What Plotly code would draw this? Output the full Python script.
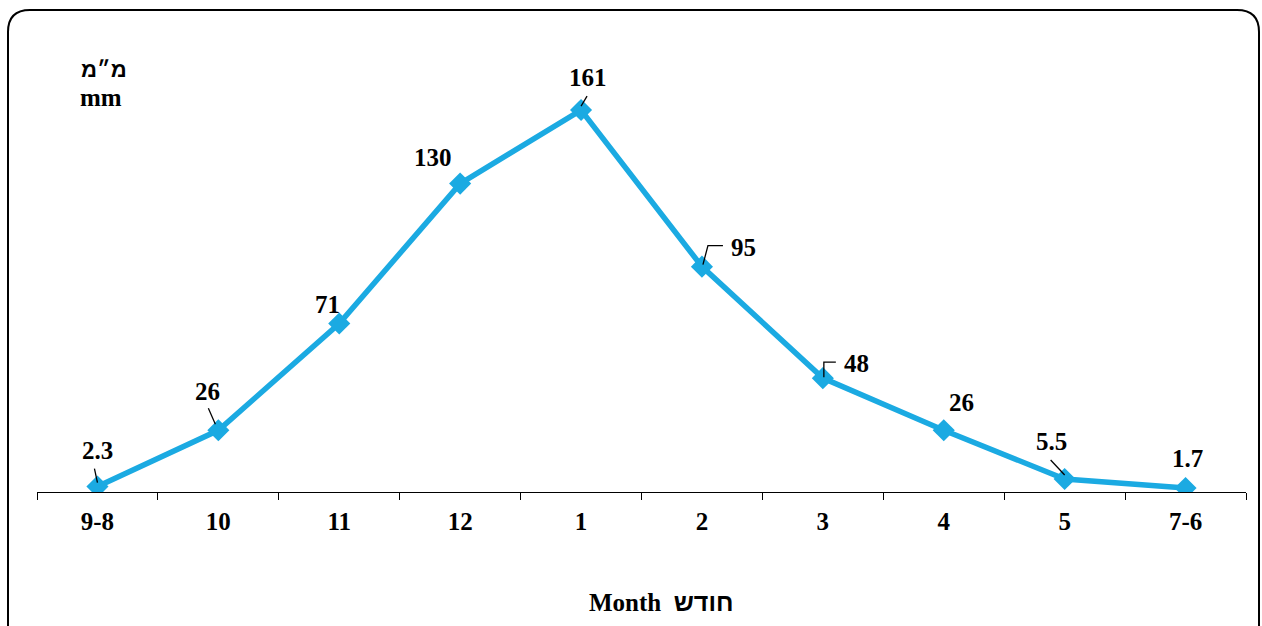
import plotly.graph_objects as go

months = ["9-8", "10", "11", "12", "1", "2", "3", "4", "5", "7-6"]
rain_mm = [2.3, 26, 71, 130, 161, 95, 48, 26, 5.5, 1.7]
label_text = ["2.3", "26", "71", "130", "161", "95", "48", "26", "5.5", "1.7"]

# label offsets in pixels (dx right, dy up) from each point
label_dx = [0, -11, -12, -27, 7, 42, 34, 18, -13, 2]
label_dy = [36, 39, 19, 26, 33, 19, 15, 28, 37, 29]

# leader line paths (pixel offsets from the point, y up); None = no leader
leaders = [
    "M -3,18 L 0,4",
    "M -10,22 L -3,6",
    None,
    None,
    "M 6,14 L 0,4",
    "M 1,2 L 6,21 L 21,21",
    "M 1,1 L 1,16 L 13,16",
    None,
    "M -14,19 L 0,4",
    None,
]

FONT = "Liberation Serif, Times New Roman, serif"
HEB = "Liberation Sans, Arial, sans-serif"
BLUE = "#1BAAE2"

fig = go.Figure()
fig.add_trace(go.Scatter(
    x=months, y=rain_mm, mode="lines+markers",
    line=dict(color=BLUE, width=5.5),
    marker=dict(symbol="diamond", size=17, color=BLUE),
    hoverinfo="skip", showlegend=False,
))

annotations = []
shapes = []
for i, v in enumerate(rain_mm):
    # category axis: numeric x refers to the category's position index
    annotations.append(dict(
        x=i, y=v, xref="x", yref="y", text=f"<b>{label_text[i]}</b>",
        showarrow=False, xshift=label_dx[i], yshift=label_dy[i],
        xanchor="center", yanchor="middle",
        font=dict(family=FONT, size=25, color="black"),
    ))
    if leaders[i]:
        shapes.append(dict(
            type="path", xref="x", yref="y", xsizemode="pixel", ysizemode="pixel",
            xanchor=i, yanchor=v, path=leaders[i],
            line=dict(color="black", width=1.3),
        ))

# reference pixel -> paper fraction (plot area 37..1246 x 65..492)
def px(xp):
    return (xp - 37) / 1209

def py(yp):
    return (492 - yp) / 427

annotations.append(dict(x=px(104), y=py(69), xref="paper", yref="paper",
                        xanchor="center", yanchor="middle",
                        text=f"<span style='font-family:{HEB}'><b>מ״מ</b></span>", showarrow=False,
                        font=dict(family=HEB, size=22, color="black")))
annotations.append(dict(x=px(101), y=py(98), xref="paper", yref="paper",
                        xanchor="center", yanchor="middle",
                        text="<b>mm</b>", showarrow=False,
                        font=dict(family=FONT, size=25, color="black")))
annotations.append(dict(x=px(661), y=py(602), xref="paper", yref="paper",
                        xanchor="center", yanchor="middle",
                        text=f"<b>Month  </b><span style='font-family:{HEB}'><b>חודש</b></span>",
                        showarrow=False,
                        font=dict(family=FONT, size=25, color="black")))

# rounded outer frame (paper coordinates)
x0 = px(8)
x1 = px(1259)
yt = py(10)
yb = py(650)
rx = 22 / 1209
ry = 22 / 427
frame = (f"M {x0},{yb} L {x0},{yt - ry} Q {x0},{yt} {x0 + rx},{yt} "
         f"L {x1 - rx},{yt} Q {x1},{yt} {x1},{yt - ry} L {x1},{yb}")
shapes.append(dict(type="path", xref="paper", yref="paper", path=frame,
                   line=dict(color="black", width=2), layer="below"))

fig.update_layout(
    width=1262, height=626,
    margin=dict(l=37, r=16, t=65, b=134),
    paper_bgcolor="white", plot_bgcolor="white",
    annotations=annotations, shapes=shapes,
    xaxis=dict(
        type="category", categoryorder="array", categoryarray=months,
        tickmode="array", tickvals=months, ticktext=[f"<b>{m}</b>" for m in months],
        range=[-0.5, 9.5], showgrid=False, zeroline=False,
        showline=True, linecolor="black", linewidth=1,
        ticks="outside", tickson="boundaries", ticklen=7, tickcolor="black", tickwidth=1,
        ticklabelstandoff=7,
        tickfont=dict(family=FONT, size=25, color="black"),
        fixedrange=True,
    ),
    yaxis=dict(range=[0, 180], visible=False, fixedrange=True),
)

fig.write_html(
    "out.html",
    config={"displayModeBar": False, "staticPlot": True},
    post_script="document.body.style.margin='0';document.body.style.overflow='hidden';",
)
